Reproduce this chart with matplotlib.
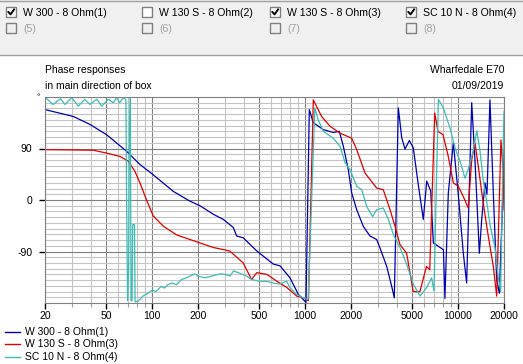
import matplotlib
matplotlib.use("Agg")
import matplotlib.pyplot as plt
from matplotlib.lines import Line2D
from matplotlib.patches import Rectangle

W, H = 523, 364

# series 1: W 300 - 8 Ohm(1)
w300_freq = [20, 30.6, 39.4, 50.6, 68.4, 83.5, 102, 138, 177, 206, 252, 293, 340, 358,
             395, 484, 621, 687, 798, 906, 1016, 1068, 1134, 1319, 1532, 1677, 1782,
             1920, 2022, 2180, 2407, 2662, 2942, 3096, 3423, 3690, 3838, 4077, 4290,
             4508, 4813, 5108, 5505, 5939, 6250, 6638, 6903, 7447, 8036, 8220, 8650,
             9330, 10050, 10840, 11400, 12300, 12920, 13800, 14300, 15030, 15480,
             16190, 17030, 17920, 18640, 19790, 20000]
w300_phase = [158, 146, 132, 114, 85, 62, 44, 15, -2, -10, -25, -34, -48, -63,
              -66, -89, -112, -115, -136, -165, -179, 158, 135, 123, 118, 120, 94,
              53, 12, -17, -46, -63, -69, -84, -116, -151, -171, 161, 109,
              89, 104, 91, 27, -34, 33, 16, -75, -81, -87, -172, 12,
              100, 10, -93, -145, 170, 70, -93, -34, 30, 10,
              175, 12, -139, -163, 30, 86]

# series 3: W 130 S - 8 Ohm(3)
w130_freq = [20, 41.3, 50.6, 61.9, 70.1, 77.4, 83.5, 92.2, 102, 119, 145, 177, 206,
             252, 322, 395, 448, 484, 564, 656, 762, 884, 977, 1054, 1134, 1285,
             1457, 1690, 2022, 2180, 2470, 2942, 3250, 3600, 3880, 4180, 4620, 5100,
             5640, 6230, 6540, 7050, 7400, 7990, 8650, 9330, 10050, 10840, 11680,
             12300, 12920, 13580, 14620, 15780, 17030, 17920, 19100, 19790, 20000]
w130_phase = [88, 87, 82, 76, 68, 50, 30, 0, -28, -46, -61, -69, -75,
              -83, -89, -110, -139, -127, -130, -142, -153, -168, -171, -176, 175, 146,
              129, 117, 108, 88, 47, 21, 18, -17, -46, -78, -93, -160,
              -160, -116, -122, 152, 120, 114, 76, 30, 24, 6, -14,
              70, 100, 59, -5, -63, -116, -168, 105, 47, -17]

# series 4: SC 10 N - 8 Ohm(4)
sc10_freq = [20.3, 22.6, 25.3, 27.0, 29.9, 33.0, 36.4, 39.3, 43.6, 47.0, 51.9, 55.9,
             58.8, 61.4, 65.2, 67.6, 68.3, 69.3, 70.4, 71.3, 72.3, 73.0, 74.1, 74.9,
             76.9, 77.6, 81.1, 87.3, 94.0, 101, 106, 115, 121, 127, 135, 145, 156,
             168, 191, 200, 222, 246, 279, 301, 324, 341, 367, 416, 448, 507, 560,
             617, 685, 759, 797, 882, 974, 1050, 1160, 1220, 1320, 1530, 1695, 1830,
             1970, 2180, 2350, 2530, 2770, 2940, 3250, 3510, 3780, 4180, 4620, 5110,
             5650, 6250, 6730, 6970, 7450, 8020, 8870, 9570, 10310, 11120, 11690,
             12590, 13270, 13940, 14650, 15410, 16190, 17460, 18360, 19020, 19790,
             20000]
sc10_phase = [178, 167, 177, 167, 179, 164, 176, 167, 176, 164, 176, 170,
              179, 170, 179, 175, 0, -176, -120, 132, 178, -176, -176, -43,
              -43, -178, -177, -168, -163, -157, -160, -151, -154, -148, -145, -148, -139,
              -136, -129, -133, -136, -133, -129, -130, -133, -124, -127, -133, -139, -142, -142,
              -145, -147, -142, -153, -165, -171, -174, 161, 140, 120, 108, 94, 65,
              53, 24, 18, -11, -29, -17, -14, -34, -60, -83, -112, -147,
              -168, -153, -136, -159, 176, 161, 126, 91, 68, 38, 54,
              86, 121, 86, 33, -2, -43, -83, -136, -160, 103,
              155]

names = ["W 300 - 8 Ohm(1)", "W 130 S - 8 Ohm(3)", "SC 10 N - 8 Ohm(4)"]
colors = ["#0000b4", "#e00000", "#3cbcb4"]

x_major = [20, 50, 100, 200, 500, 1000, 2000, 5000, 10000, 20000]
x_minor = [30, 40, 60, 70, 80, 90, 300, 400, 600, 700, 800, 900,
           3000, 4000, 6000, 7000, 8000, 9000]
y_major = [-90, 0, 90]

checks = ["W 300 - 8 Ohm(1)", "W 130 S - 8 Ohm(2)", "W 130 S - 8 Ohm(3)", "SC 10 N - 8 Ohm(4)"]
checked = [True, False, True, True]
spare = ["(5)", "(6)", "(7)", "(8)"]


def fx(x):
    return x / W


def fy(y):
    return 1 - y / H


plt.rcParams["font.family"] = ["Liberation Sans", "DejaVu Sans"]
fig = plt.figure(figsize=(W / 100, H / 100), dpi=100)
fig.patch.set_facecolor("white")

# top panel with the check boxes
fig.add_artist(Rectangle((0, fy(55)), 1, 55 / H, transform=fig.transFigure,
                         facecolor="#f0f0f0", edgecolor="none"))
fig.add_artist(Line2D([0, 1], [fy(0.5)] * 2, color="#a0a0a0", lw=1))
fig.add_artist(Line2D([0, 1], [fy(54.5)] * 2, color="#a0a0a0", lw=1))

col_x = [6, 142, 270, 406]
for i, x0 in enumerate(col_x):
    for row, y0 in enumerate([7, 23]):
        face = "white" if row == 0 else "#f0f0f0"
        fig.add_artist(Rectangle((fx(x0), fy(y0 + 10)), 10 / W, 10 / H,
                                 transform=fig.transFigure, facecolor=face,
                                 edgecolor="#808080", lw=1))
        if row == 0:
            fig.text(fx(x0 + 17), fy(y0 + 5.5), checks[i], fontsize=7.6,
                     ha="left", va="center", color="black")
            if checked[i]:
                fig.add_artist(Line2D([fx(x0 + 2.5), fx(x0 + 4.5), fx(x0 + 8)],
                                      [fy(y0 + 5), fy(y0 + 7.5), fy(y0 + 2.5)],
                                      color="black", lw=1.4))
        else:
            fig.text(fx(x0 + 17), fy(y0 + 5.5), spare[i], fontsize=7.6,
                     ha="left", va="center", color="#a0a0a0")

# chart
ax = fig.add_axes([fx(45), fy(303), (504 - 45) / W, (303 - 97) / H])
ax.set_facecolor("white")
ax.set_axisbelow(True)
ax.set_xscale("log")
ax.set_xlim(20, 20000)
ax.set_ylim(-180, 180)

ax.set_xticks(x_major)
ax.set_xticklabels([str(v) for v in x_major])
ax.set_xticks(x_minor, minor=True)
ax.set_xticklabels([], minor=True)
ax.set_yticks(y_major)
ax.set_yticklabels([str(v) for v in y_major])
ax.set_yticks(range(-170, 180, 10), minor=True)
ax.grid(which="major", color="#808080", lw=0.8)
ax.grid(which="minor", color="#c4c4c4", lw=0.8)
ax.tick_params(axis="x", which="major", direction="out", length=4, width=1,
               color="black", labelsize=7.5, pad=2)
ax.tick_params(axis="x", which="minor", direction="out", length=3, width=0.8,
               color="#a0a0a0")
ax.tick_params(axis="y", which="major", direction="out", length=4, width=1,
               color="black", labelsize=7.5, pad=5)
ax.tick_params(axis="y", which="minor", length=0)
for s in ax.spines.values():
    s.set_color("#808080")
    s.set_linewidth(0.8)

ax.plot(w300_freq, w300_phase, color=colors[0], lw=0.9)
ax.plot(w130_freq, w130_phase, color=colors[1], lw=0.9)
ax.plot(sc10_freq, sc10_phase, color=colors[2], lw=0.9)

fig.text(fx(38), fy(98), "°", fontsize=6, ha="center", va="center")

fig.text(fx(45), fy(70), "Phase responses", fontsize=7.5, ha="left", va="center")
fig.text(fx(45), fy(86), "in main direction of box", fontsize=7.5, ha="left", va="center")
fig.text(fx(504), fy(70), "Wharfedale E70", fontsize=7.5, ha="right", va="center")
fig.text(fx(504), fy(86), "01/09/2019", fontsize=7.5, ha="right", va="center")

# legend under the chart
for i, name in enumerate(names):
    y = 332 + i * 12.3
    fig.add_artist(Line2D([fx(5), fx(20)], [fy(y)] * 2, color=colors[i], lw=1.0))
    fig.text(fx(25), fy(y), name, fontsize=7.5, ha="left", va="center")

fig.savefig("out.png", dpi=100, facecolor=fig.get_facecolor())
